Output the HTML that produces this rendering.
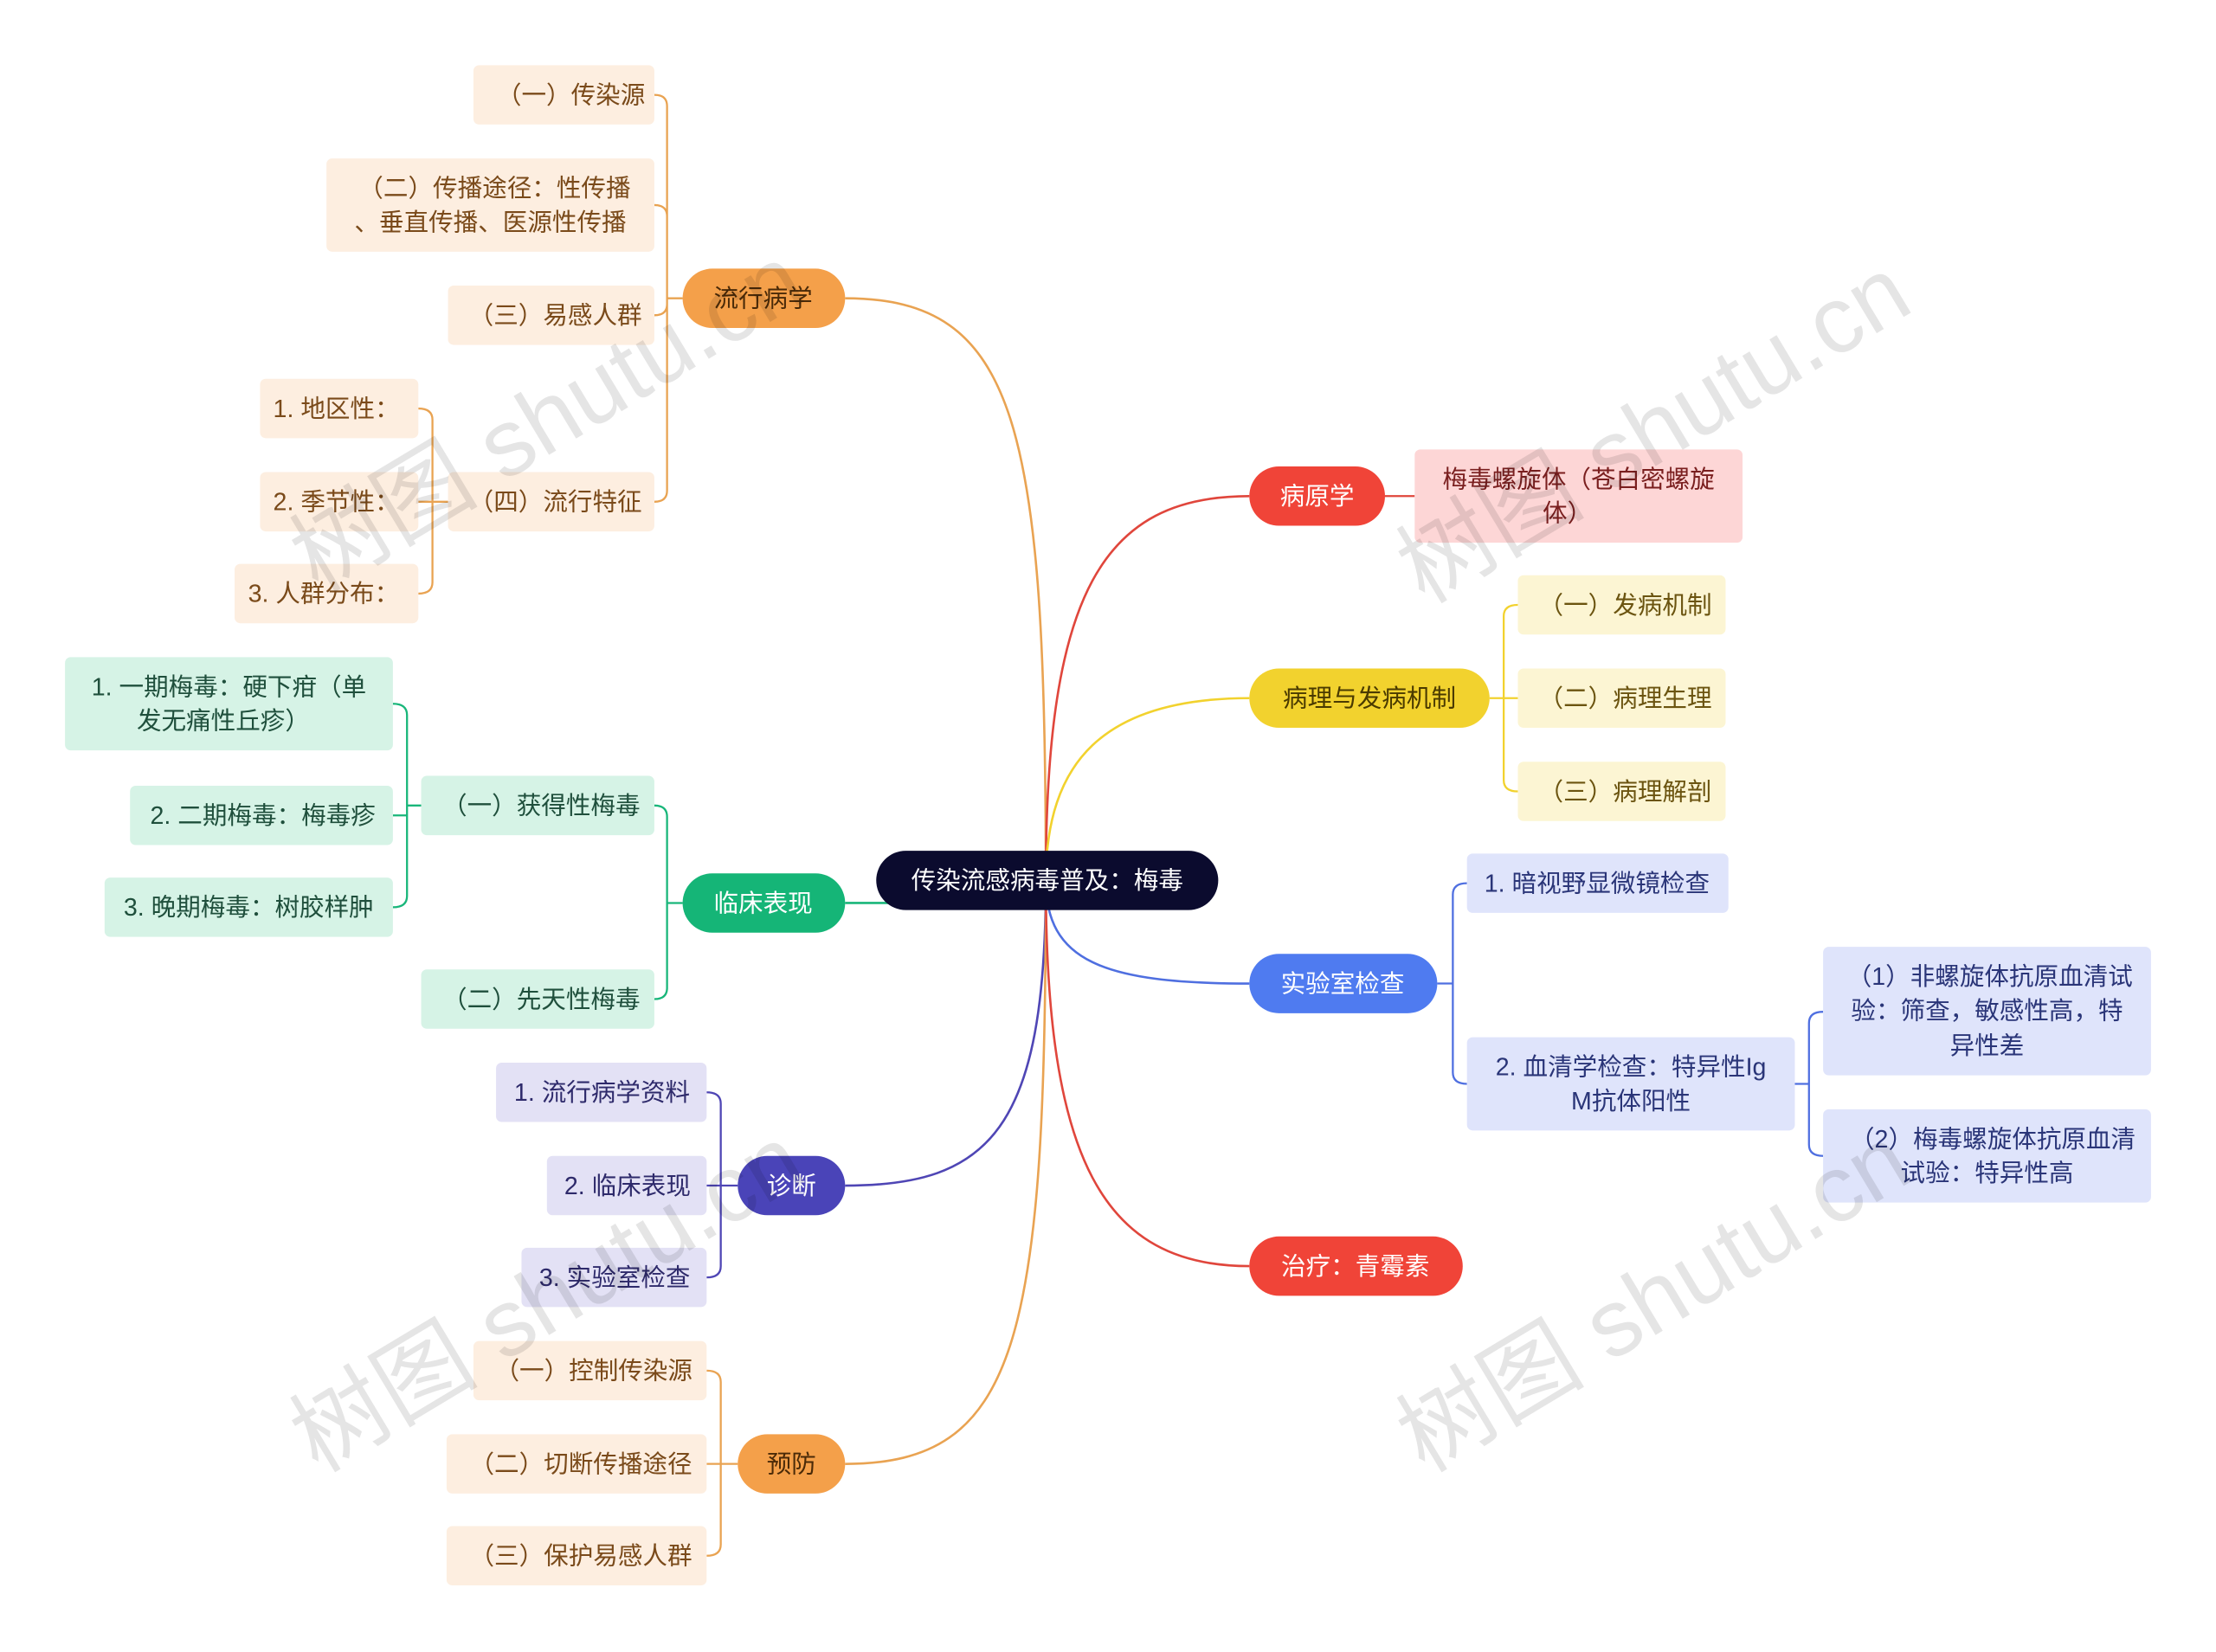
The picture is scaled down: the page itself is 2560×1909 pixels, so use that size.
<!DOCTYPE html>
<html><head><meta charset="utf-8"><style>
html,body{margin:0;padding:0;background:#fff;}
svg{display:block;}
text{font-family:"Liberation Sans","Noto Sans CJK SC",sans-serif;font-size:17.5px;}
</style></head><body>
<svg width="2560" height="1909" viewBox="0 0 1568 1169" xmlns="http://www.w3.org/2000/svg">
<rect width="1568" height="1169" fill="#fff"/>
<g fill="none" stroke-width="1.6">
<path d="M740 623 C740 300 720 211 598 211" stroke="#e9a352"/>
<path d="M740 623 C740 640 640 639 598 639" stroke="#19b67a"/>
<path d="M740 623 C740 800 700 839 598 839" stroke="#4f46b5"/>
<path d="M740 623 C740 950 720 1036 598 1036" stroke="#e9a352"/>
<path d="M740 623 C740 420 780 351 884 351" stroke="#e0463c"/>
<path d="M740 623 C740 540 780 494 884 494" stroke="#f2d22e"/>
<path d="M740 623 C740 680 780 696 884 696" stroke="#4f6fe0"/>
<path d="M740 623 C740 820 780 896 884 896" stroke="#e0463c"/>
</g>
<g fill="none" stroke-width="1.4">
<g stroke="#e9a352">
<path d="M483 211 H472 M472 211 V75 Q472 67 463 67 M472 211 V153 Q472 145 463 145 M472 211 V215 Q472 223 463 223 M472 211 V347 Q472 355 463 355"/>
<path d="M317 355 H306 M306 355 V297 Q306 289 296 289 M306 355 H296 M306 355 V412 Q306 420 296 420"/>
<path d="M522 1036 H510 M510 1036 V978 Q510 970 500 970 M510 1036 H500 M510 1036 V1093 Q510 1101 500 1101"/>
</g>
<g stroke="#19b67a">
<path d="M483 639 H472 M472 639 V578 Q472 570 463 570 M472 639 V699 Q472 707 463 707"/>
<path d="M298 570 H288 M288 570 V506 Q288 498 278 498 M288 570 V577 H278 M288 570 V634 Q288 642 278 642"/>
</g>
<path stroke="#4f46b5" d="M522 839 H510 M510 839 V781 Q510 773 500 773 M510 839 H500 M510 839 V896 Q510 904 500 904"/>
<path stroke="#e0463c" d="M980 351 H1001"/>
<path stroke="#f2d22e" d="M1054 494 H1064 M1064 494 V436 Q1064 428 1074 428 M1064 494 H1074 M1064 494 V552 Q1064 560 1074 560"/>
<g stroke="#4f6fe0">
<path d="M1017 696 H1028 M1028 696 V633 Q1028 625 1038 625 M1028 696 V759 Q1028 767 1038 767"/>
<path d="M1270 767 H1280 M1280 767 V724 Q1280 716 1290 716 M1280 767 V810 Q1280 818 1290 818"/>
</g>
</g>
<rect x="620" y="602" width="242" height="42" rx="21" fill="#0b0b2e"/>
<text x="741" y="629" fill="#fff" text-anchor="middle" font-size="18">传染流感病毒普及：梅毒</text>
<g text-anchor="middle" font-size="18">
<rect x="483" y="190" width="115" height="42" rx="21" fill="#f4a04a"/><text x="540" y="217" fill="#4a2a08">流行病学</text>
<rect x="483" y="618" width="115" height="42" rx="21" fill="#15b577"/><text x="540" y="645" fill="#fff">临床表现</text>
<rect x="522" y="818" width="76" height="42" rx="21" fill="#4a44b8"/><text x="560" y="845" fill="#fff">诊断</text>
<rect x="522" y="1015" width="76" height="42" rx="21" fill="#f4a04a"/><text x="560" y="1042" fill="#4a2a08">预防</text>
<rect x="884" y="330" width="96" height="42" rx="21" fill="#f04438"/><text x="932" y="357" fill="#fff">病原学</text>
<rect x="884" y="473" width="170" height="42" rx="21" fill="#f2d22e"/><text x="969" y="500" fill="#4a3a00">病理与发病机制</text>
<rect x="884" y="675" width="133" height="42" rx="21" fill="#4f7bf0"/><text x="950" y="702" fill="#fff">实验室检查</text>
<rect x="884" y="875" width="151" height="42" rx="21" fill="#f04438"/><text x="959" y="902" fill="#fff">治疗：青霉素</text>
</g>
<g text-anchor="middle">
<g fill="#fdeee0">
<rect x="335" y="46" width="128" height="42" rx="4"/><rect x="231" y="112" width="232" height="66" rx="4"/>
<rect x="317" y="202" width="146" height="42" rx="4"/><rect x="317" y="334" width="146" height="42" rx="4"/>
<rect x="184" y="268" width="112" height="42" rx="4"/><rect x="184" y="334" width="112" height="42" rx="4"/>
<rect x="166" y="399" width="130" height="42" rx="4"/>
<rect x="335" y="949" width="165" height="42" rx="4"/><rect x="316" y="1015" width="184" height="42" rx="4"/>
<rect x="316" y="1080" width="184" height="42" rx="4"/>
</g>
<g fill="#7a4a1a">
<text x="404" y="73">（一）传染源</text>
<text x="350" y="139">（二）传播途径：性传播</text><text x="347" y="163">、垂直传播、医源性传播</text>
<text x="393" y="229">（三）易感人群</text><text x="393" y="361">（四）流行特征</text>
<text x="238" y="295">1. 地区性：</text><text x="238" y="361">2. 季节性：</text><text x="229" y="426">3. 人群分布：</text>
<text x="420" y="976">（一）控制传染源</text><text x="411" y="1042">（二）切断传播途径</text><text x="411" y="1107">（三）保护易感人群</text>
</g>
<g fill="#d6f3e6">
<rect x="298" y="549" width="165" height="42" rx="4"/><rect x="298" y="686" width="165" height="42" rx="4"/>
<rect x="46" y="465" width="232" height="66" rx="4"/><rect x="92" y="556" width="186" height="42" rx="4"/>
<rect x="74" y="621" width="204" height="42" rx="4"/>
</g>
<g fill="#1f4f3c">
<text x="383" y="576">（一）获得性梅毒</text><text x="383" y="713">（二）先天性梅毒</text>
<text x="162" y="492">1. 一期梅毒：硬下疳（单</text><text x="158" y="516">发无痛性丘疹）</text>
<text x="186" y="583">2. 二期梅毒：梅毒疹</text><text x="176" y="648">3. 晚期梅毒：树胶样肿</text>
</g>
<g fill="#e3e1f5">
<rect x="351" y="752" width="149" height="42" rx="4"/><rect x="387" y="818" width="113" height="42" rx="4"/>
<rect x="369" y="883" width="131" height="42" rx="4"/>
</g>
<g fill="#2e2a6b">
<text x="426" y="779">1. 流行病学资料</text><text x="444" y="845">2. 临床表现</text><text x="435" y="910">3. 实验室检查</text>
</g>
<rect x="1001" y="318" width="232" height="66" rx="4" fill="#fdd6d6"/>
<g fill="#7a1f1f"><text x="1117" y="345">梅毒螺旋体（苍白密螺旋</text><text x="1109" y="369">体）</text></g>
<g fill="#fcf5d3">
<rect x="1074" y="407" width="147" height="42" rx="4"/><rect x="1074" y="473" width="147" height="42" rx="4"/>
<rect x="1074" y="539" width="147" height="42" rx="4"/>
</g>
<g fill="#6b5410">
<text x="1150" y="434">（一）发病机制</text><text x="1150" y="500">（二）病理生理</text><text x="1150" y="566">（三）病理解剖</text>
</g>
<g fill="#dfe4fb">
<rect x="1038" y="604" width="185" height="42" rx="4"/><rect x="1038" y="734" width="232" height="66" rx="4"/>
<rect x="1290" y="670" width="232" height="91" rx="4"/><rect x="1290" y="785" width="232" height="66" rx="4"/>
</g>
<g fill="#2a3578">
<text x="1130" y="631">1. 暗视野显微镜检查</text>
<text x="1154" y="761">2. 血清学检查：特异性Ig</text><text x="1154" y="785">M抗体阳性</text>
<text x="1408" y="697">（1）非螺旋体抗原血清试</text><text x="1406" y="721">验：筛查，敏感性高，特</text><text x="1406" y="746">异性差</text>
<text x="1410" y="812">（2）梅毒螺旋体抗原血清</text><text x="1406" y="836">试验：特异性高</text>
</g>
</g>
<g fill="#000" fill-opacity="0.1">
<text transform="translate(225,420) rotate(-31)" style="font-size:67px">树图 shutu.cn</text>
<text transform="translate(1008,428) rotate(-31)" style="font-size:67px">树图 shutu.cn</text>
<text transform="translate(225,1043) rotate(-31)" style="font-size:67px">树图 shutu.cn</text>
<text transform="translate(1008,1043) rotate(-31)" style="font-size:67px">树图 shutu.cn</text>
</g>
</svg>
</body></html>
